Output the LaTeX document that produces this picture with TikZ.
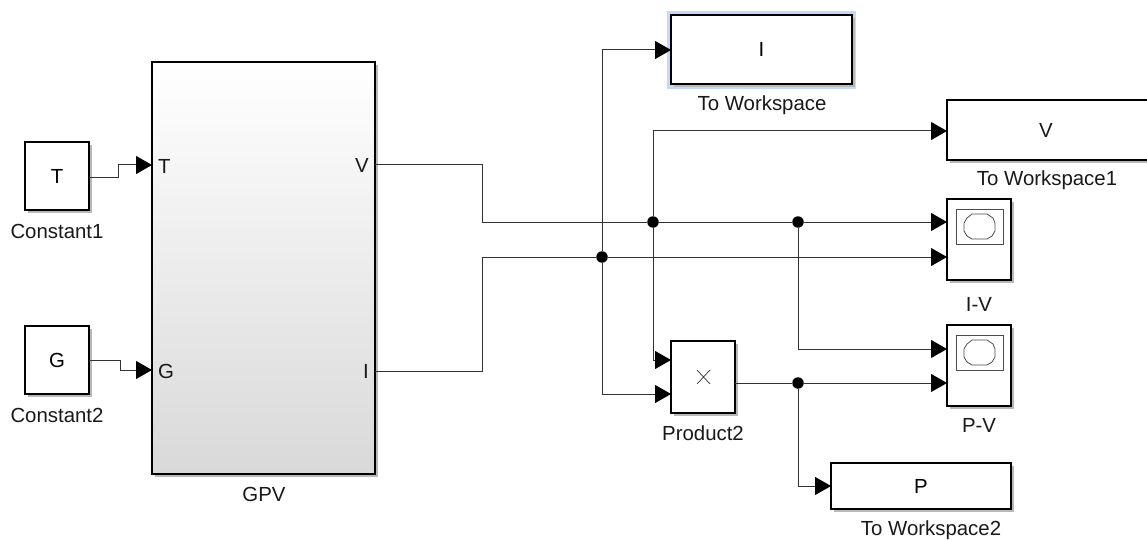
\documentclass[tikz,border=0pt]{standalone}
\usepackage{fontspec}
\setmainfont{Liberation Sans}
\usetikzlibrary{arrows.meta,calc,positioning}
\definecolor{wirecol}{RGB}{50,50,50}
\definecolor{selcol}{RGB}{196,219,248}
\tikzset{
  x=1pt,y=-1pt,
  lbl/.style={font=\fontsize{20.4pt}{21pt}\selectfont,text=black!90,inner sep=0pt},
  blk/.style={draw=black,line width=2.3pt,fill=white,inner sep=0pt,outer sep=0pt,font=\fontsize{20.4pt}{21pt}\selectfont},
  shade box/.style={fill=black!28},
  wire/.style={draw=wirecol,line width=1pt,-{Triangle[length=16pt,width=18pt,fill=black,color=black]}},
  seg/.style={draw=wirecol,line width=1pt},
  dot/.style={circle,fill=black,inner sep=0pt,outer sep=0pt,minimum size=11.5pt},
  screen/.style={draw=black!70,line width=.8pt},
}
\newcommand{\blockat}[7]{% name, x0,y0,x1,y1, style, text
  \fill[shade box] (#2+3,#3+3) rectangle (#4+3,#5+3);
  \node[blk,#6,minimum width=#4-#2,minimum height=#5-#3,anchor=north west] (#1) at (#2,#3) {#7};}
\begin{document}
\begin{tikzpicture}
\useasboundingbox (0,0) rectangle (1147,540);
\fill[white] (0,0) rectangle (1147,540);
% selection halo
\fill[selcol] (667,11) rectangle (856,89);
% blocks
\blockat{T}{25}{142}{89}{210}{}{T}
\blockat{G}{25}{326}{89}{394}{}{G}
\blockat{GPV}{152}{62}{375}{474}{top color=white,bottom color=black!15}{}
\blockat{toI}{671}{15}{852}{84}{}{I}
\begin{scope}
\clip (0,0) rectangle (1147,540);
\blockat{toV}{947}{100}{1160}{160}{}{}
\end{scope}
\node[lbl] (vtxt) at (1046,130) {V};
\blockat{iv}{947}{199}{1011}{280}{}{}
\blockat{pv}{947}{325}{1011}{406}{}{}
\blockat{prod}{671}{341}{735}{413}{}{}
\blockat{toP}{831}{463}{1011}{509}{}{P}
% labels
\node[lbl] (lT) at (57,231) {Constant1};
\node[lbl] (lG) at (57,415) {Constant2};
\node[lbl] (lGPV) at (264,494) {GPV};
\node[lbl] (lI) at (762,105) {To Workspace};
\node[lbl] (lV) at (1047,180) {To Workspace1};
\node[lbl] (lIV) at (979,304) {I-V};
\node[lbl] (lPV) at (979,425) {P-V};
\node[lbl] (lP) at (931,530) {To Workspace2};
\node[lbl] (lProd) at (703,433) {Product2};
% ports
\node[lbl,anchor=west] (pT) at (158,166) {T};
\node[lbl,anchor=west] (pG) at (158,371) {G};
\node[lbl,anchor=east] (pV) at (369,165) {V};
\node[lbl,anchor=east] (pI) at (369,371) {I};
% scope icons
\foreach \b/\yy in {iv/0,pv/126}{
  \draw[screen] (956,209+\yy) rectangle (1003,244+\yy);
  \draw[screen] (972,214+\yy) -- (987,214+\yy) -- (993,218+\yy) -- (995,223+\yy) -- (995,231+\yy) -- (992,236+\yy) -- (987,239+\yy) -- (972,239+\yy) -- (967,236+\yy) -- (964,231+\yy) -- (964,223+\yy) -- (967,218+\yy) -- cycle;
}
% product symbol
\draw[black!80,line width=.7pt] (697,370) -- (710,384) (710,370) -- (697,384);
% junctions
\node[dot] (j1) at (653,222) {};
\node[dot] (j2) at (798,222) {};
\node[dot] (j3) at (602,257) {};
\node[dot] (j4) at (798,383) {};
% wires
\coordinate (Tout) at (89,177);
\coordinate (Gout) at (89,360);
\draw[wire] (Tout) -- (118,177) -- (118,165) -- (152,165);
\draw[wire] (Gout) -- (120,360) -- (120,370) -- (152,370);
\draw[seg] (375,165) -- (482,165) -- (482,222) -- (j1);
\draw[seg] (375,371) -- (482,371) -- (482,257) -- (j3);
\draw[seg] (j1) -- (j2);
\draw[wire] (j2) -- (947,222);
\draw[wire] (j3) -- (947,257);
\draw[wire] (j1) -- (653,131) -- (947,131);
\draw[wire] (j1) -- (653,360) -- (671,360);
\draw[wire] (j3) -- (602,50) -- (671,50);
\draw[wire] (j3) -- (602,394) -- (671,394);
\draw[wire] (j2) -- (798,349) -- (947,349);
\draw[seg] (735,383) -- (j4);
\draw[wire] (j4) -- (947,383);
\draw[wire] (j4) -- (798,486) -- (831,486);
\end{tikzpicture}
\end{document}
